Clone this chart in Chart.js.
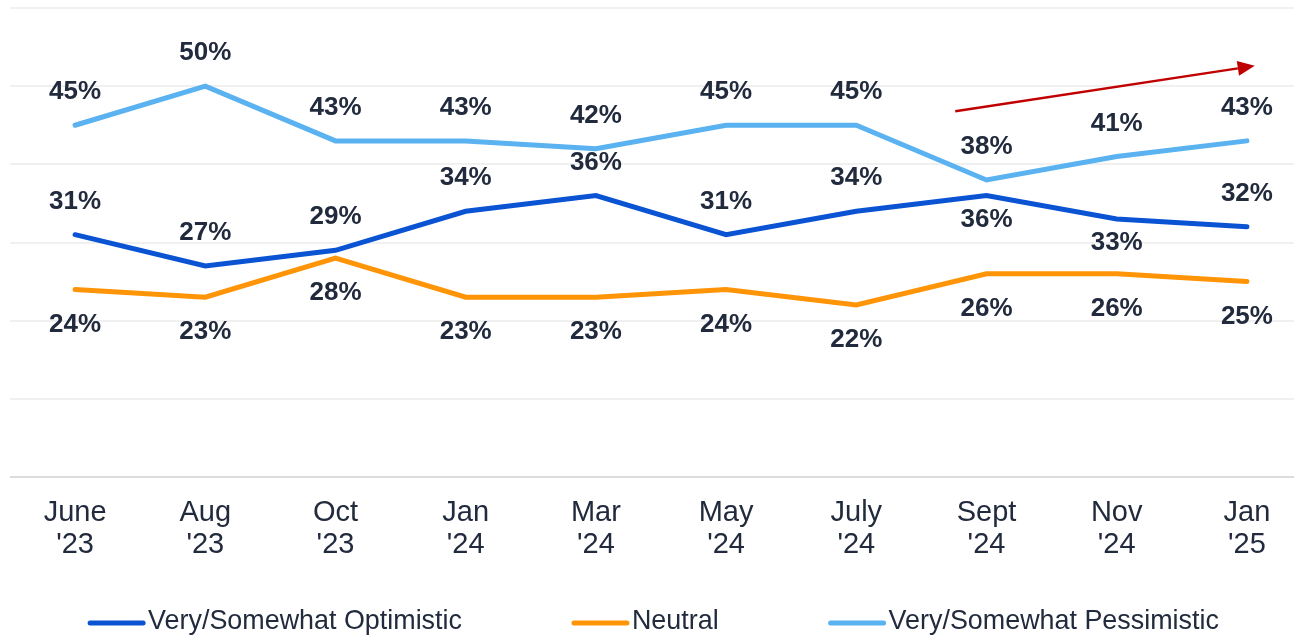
<!DOCTYPE html>
<html>
<head>
<meta charset="utf-8">
<title>Outlook trend</title>
<script src="https://cdn.jsdelivr.net/npm/chart.js@4.4.1/dist/chart.umd.min.js"></script>
<style>
  html, body { margin: 0; padding: 0; background: #fff; overflow: hidden; }
  #wrap { width: 1294px; height: 638px; overflow: hidden; }
  #box { width: 1312px; height: 638px; position: relative; }
</style>
</head>
<body>
<div id="wrap"><div id="box"><canvas id="trendChart"></canvas></div></div>
<script>
const months = [
  ["June", "'23"], ["Aug", "'23"], ["Oct", "'23"], ["Jan", "'24"], ["Mar", "'24"],
  ["May", "'24"], ["July", "'24"], ["Sept", "'24"], ["Nov", "'24"], ["Jan", "'25"]
];
const optimistic = [31, 27, 29, 34, 36, 31, 34, 36, 33, 32];
const neutral = [24, 23, 28, 23, 23, 24, 22, 26, 26, 25];
const pessimistic = [45, 50, 43, 43, 42, 45, 45, 38, 41, 43];
const yTicks = [0, 10, 20, 30, 40, 50, 60];

// which side of the point each value label sits on
const optimisticSide = ["above", "above", "above", "above", "above", "above", "above", "below", "below", "above"];
const neutralSide = neutral.map(() => "below");
const pessimisticSide = pessimistic.map(() => "above");

// red trend arrow, in chart values: [category index, percent]
const arrowFrom = [6.76, 46.8];
const arrowTo = [9.06, 52.6];

const textColor = "#222b3d";
const fontFamily = "'Liberation Sans', Arial, sans-serif";

const pointLabels = {
  id: "pointLabels",
  afterDatasetsDraw(c) {
    const ctx = c.ctx;
    ctx.save();
    ctx.font = "bold 26px " + fontFamily;
    ctx.fillStyle = textColor;
    ctx.textAlign = "center";
    ctx.textBaseline = "middle";
    c.data.datasets.forEach((ds, i) => {
      const meta = c.getDatasetMeta(i);
      meta.data.forEach((pt, j) => {
        const dy = ds.labelSide[j] === "above" ? -33 : ds.belowGap;
        ctx.fillText(ds.data[j] + "%", pt.x, pt.y + dy);
      });
    });
    ctx.restore();
  }
};

const trendArrow = {
  id: "trendArrow",
  afterDatasetsDraw(c) {
    const xs = c.scales.x, ys = c.scales.y;
    const x1 = xs.getPixelForValue(arrowFrom[0]), y1 = ys.getPixelForValue(arrowFrom[1]);
    const x2 = xs.getPixelForValue(arrowTo[0]), y2 = ys.getPixelForValue(arrowTo[1]);
    const ang = Math.atan2(y2 - y1, x2 - x1);
    const head = 17, half = 7.5;
    const ctx = c.ctx;
    ctx.save();
    ctx.strokeStyle = "#c00000";
    ctx.fillStyle = "#c00000";
    ctx.lineWidth = 2.5;
    ctx.beginPath();
    ctx.moveTo(x1, y1);
    ctx.lineTo(x2 - Math.cos(ang) * head, y2 - Math.sin(ang) * head);
    ctx.stroke();
    ctx.beginPath();
    ctx.moveTo(x2, y2);
    ctx.lineTo(x2 - Math.cos(ang) * head - Math.sin(ang) * half, y2 - Math.sin(ang) * head + Math.cos(ang) * half);
    ctx.lineTo(x2 - Math.cos(ang) * head + Math.sin(ang) * half, y2 - Math.sin(ang) * head - Math.cos(ang) * half);
    ctx.closePath();
    ctx.fill();
    ctx.restore();
  }
};

const lineLegend = {
  id: "lineLegend",
  afterDraw(c) {
    const ctx = c.ctx;
    ctx.save();
    ctx.font = "26.9px " + fontFamily;
    ctx.textBaseline = "middle";
    ctx.textAlign = "left";
    const items = c.data.datasets.map(ds => ({ ds, w: ctx.measureText(ds.label).width }));
    const total = items.reduce((s, it) => s + 61 + it.w, 0) + 110 * (items.length - 1);
    let x = c.width / 2 - 1 - total / 2;
    const y = c.height - 15;
    items.forEach(it => {
      ctx.strokeStyle = it.ds.borderColor;
      ctx.lineWidth = 5;
      ctx.lineCap = "round";
      ctx.beginPath();
      ctx.moveTo(x + 2, y);
      ctx.lineTo(x + 55, y);
      ctx.stroke();
      ctx.fillStyle = textColor;
      ctx.fillText(it.ds.label, x + 60, y - 1);
      x += 60 + it.w + 110;
    });
    ctx.restore();
  }
};

function series(label, data, color, side, belowGap) {
  return {
    label, data,
    borderColor: color,
    backgroundColor: color,
    borderWidth: 5,
    borderCapStyle: "round",
    pointRadius: 0,
    pointHoverRadius: 0,
    tension: 0,
    labelSide: side,
    belowGap
  };
}

new Chart(document.getElementById("trendChart"), {
  type: "line",
  data: {
    labels: months,
    datasets: [
      series("Very/Somewhat Optimistic", optimistic, "#0a53d3", optimisticSide, 24),
      series("Neutral", neutral, "#ff9406", neutralSide, 35),
      series("Very/Somewhat Pessimistic", pessimistic, "#5ab2f0", pessimisticSide, 35)
    ]
  },
  options: {
    responsive: true,
    maintainAspectRatio: false,
    animation: false,
    layout: { padding: { top: 8, left: 10, right: 0, bottom: 0 } },
    plugins: {
      legend: { display: false },
      tooltip: { enabled: false }
    },
    scales: {
      x: {
        offset: true,
        grid: { display: false, drawTicks: false },
        border: { display: false },
        ticks: {
          color: textColor,
          font: { family: fontFamily, size: 29, lineHeight: 1.1 },
          padding: 20,
          maxRotation: 0,
          autoSkip: false
        },
        afterFit: s => { s.height = 161; }
      },
      y: {
        min: 0,
        max: 60,
        afterBuildTicks: s => { s.ticks = yTicks.map(v => ({ value: v })); },
        ticks: { display: false },
        border: { display: false },
        grid: {
          drawTicks: false,
          lineWidth: 2,
          color: ctx => ctx.tick && ctx.tick.value === 0 ? "#dcdcdc" : "#f0f0f0"
        },
        afterFit: s => { s.width = 0; }
      }
    }
  },
  plugins: [pointLabels, trendArrow, lineLegend]
});
</script>
</body>
</html>
